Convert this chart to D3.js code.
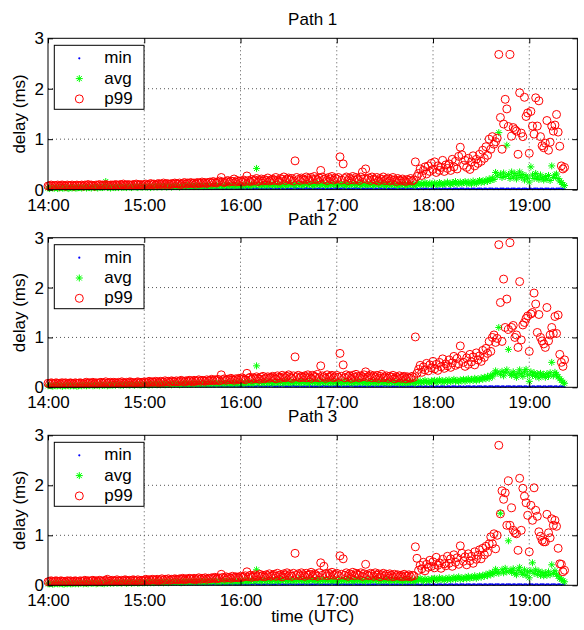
<!DOCTYPE html>
<html><head><meta charset="utf-8">
<script src="https://cdn.jsdelivr.net/npm/d3@7"></script>
<style>
body{margin:0;background:#fff}
svg{display:block}
text{font-family:"Liberation Sans",Arial,Helvetica,sans-serif;fill:#000}
</style>
</head><body>
<svg id="chart" width="584" height="630"></svg>
<script>
// sample times, minutes after 14:00 UTC (one sample per minute)
const minutes = [
0,1,2,3,4,5,6,7,8,9,10,11,12,13,14,15,16,17,18,19,
20,21,22,23,24,25,26,27,28,29,30,31,32,33,34,35,36,37,38,39,
40,41,42,43,44,45,46,47,48,49,50,51,52,53,54,55,56,57,58,59,
60,61,62,63,64,65,66,67,68,69,70,71,72,73,74,75,76,77,78,79,
80,81,82,83,84,85,86,87,88,89,90,91,92,93,94,95,96,97,98,99,
100,101,102,103,104,105,106,107,108,109,110,111,112,113,114,115,116,117,118,119,
120,121,122,123,124,125,126,127,128,129,130,131,132,133,134,135,136,137,138,139,
140,141,142,143,144,145,146,147,148,149,150,151,152,153,154,155,156,157,158,159,
160,161,162,163,164,165,166,167,168,169,170,171,172,173,174,175,176,177,178,179,
180,181,182,183,184,185,186,187,188,189,190,191,192,193,194,195,196,197,198,199,
200,201,202,203,204,205,206,207,208,209,210,211,212,213,214,215,216,217,218,219,
220,221,222,223,224,225,226,227,228,
229,230,231,232,233,234,235,236,237,238,239,
240,241,242,243,244,245,246,247,248,249,250,251,252,253,254,255,256,257,258,259,
260,261,262,263,264,265,266,267,268,269,270,271,272,273,274,275,276,277,278,279,
280,281,282,283,284,285,286,287,288,289,290,291,292,293,294,295,296,297,298,299,
300,301,302,303,304,305,306,307,308,309,310,311,312,313,314,315,316,317,318,319,
320,321,322];

const xTickValues = [0,60,120,180,240,300];
const xTickLabels = ["14:00","15:00","16:00","17:00","18:00","19:00"];
const yTickValues = [0,1,2,3];
const seriesNames = ["min","avg","p99"];
const panelTitles = ["Path 1","Path 2","Path 3"];

// ---------- Path 1 ----------
const minPath1 = [
0.01,0.02,0.01,0.01,0.02,0.01,0.02,0.01,0.01,0.02,0.01,0.02,0.02,0.01,0.02,0.01,0.02,0.02,0.01,0.02,
0.02,0.01,0.02,0.02,0.01,0.02,0.02,0.01,0.02,0.02,0.02,0.01,0.02,0.02,0.02,0.01,0.02,0.02,0.02,0.01,
0.02,0.02,0.02,0.02,0.01,0.02,0.02,0.02,0.02,0.02,0.02,0.02,0.01,0.02,0.02,0.02,0.02,0.02,0.02,0.02,
0.02,0.02,0.02,0.02,0.02,0.02,0.03,0.02,0.02,0.02,0.02,0.02,0.02,0.03,0.02,0.02,0.02,0.02,0.02,0.02,
0.02,0.02,0.03,0.02,0.02,0.02,0.02,0.02,0.02,0.02,0.02,0.02,0.02,0.02,0.02,0.03,0.02,0.02,0.02,0.02,
0.02,0.02,0.02,0.02,0.02,0.02,0.02,0.02,0.02,0.02,0.02,0.02,0.02,0.02,0.02,0.02,0.03,0.02,0.02,0.02,
0.02,0.02,0.02,0.03,0.02,0.02,0.02,0.02,0.02,0.02,0.03,0.02,0.02,0.02,0.02,0.02,0.02,0.02,0.03,0.02,
0.02,0.02,0.02,0.02,0.02,0.03,0.02,0.02,0.02,0.02,0.02,0.02,0.02,0.02,0.03,0.02,0.02,0.02,0.02,0.02,
0.02,0.03,0.02,0.02,0.02,0.02,0.02,0.02,0.02,0.03,0.02,0.02,0.02,0.02,0.02,0.02,0.02,0.02,0.02,0.03,
0.02,0.02,0.02,0.02,0.03,0.02,0.02,0.02,0.02,0.02,0.02,0.02,0.03,0.02,0.02,0.02,0.02,0.02,0.02,0.02,
0.02,0.02,0.02,0.02,0.02,0.02,0.02,0.03,0.02,0.02,0.02,0.02,0.02,0.02,0.02,0.02,0.02,0.02,0.02,0.02,
0.02,0.02,0.02,0.02,0.02,0.02,0.02,0.02,0.02,
0.02,0.02,0.01,0.02,0.02,0.01,0.02,0.02,0.02,0.01,0.02,
0.02,0.01,0.02,0.02,0.02,0.01,0.02,0.02,0.02,0.01,0.02,0.02,0.01,0.02,0.02,0.02,0.01,0.02,0.02,0.02,
0.01,0.02,0.02,0.01,0.02,0.02,0.02,0.01,0.02,0.02,0.02,0.01,0.02,0.02,0.01,0.02,0.02,0.02,0.01,0.02,
0.02,0.01,0.02,0.02,0.02,0.01,0.02,0.02,0.01,0.02,0.02,0.02,0.01,0.02,0.02,0.01,0.02,0.02,0.02,0.01,
0.02,0.02,0.01,0.02,0.02,0.02,0.01,0.02,0.02,0.01,0.02,0.02,0.02,0.01,0.02,0.02,0.01,0.02,0.02,0.02,
0.02,0.01,0.02];
const avgPath1 = [
0.03,0.02,0.04,0.03,0.03,0.04,0.02,0.03,0.04,0.03,0.03,0.04,0.03,0.02,0.04,0.03,0.04,0.03,0.03,0.04,
0.04,0.03,0.04,0.05,0.03,0.04,0.04,0.03,0.05,0.04,0.04,0.03,0.05,0.04,0.04,0.05,0.16,0.04,0.05,0.03,
0.05,0.04,0.04,0.05,0.04,0.06,0.04,0.05,0.05,0.04,0.06,0.05,0.04,0.05,0.06,0.05,0.04,0.06,0.05,0.05,
0.06,0.05,0.05,0.06,0.04,0.06,0.05,0.07,0.05,0.06,0.06,0.05,0.07,0.06,0.05,0.06,0.07,0.05,0.06,0.07,
0.06,0.07,0.05,0.07,0.06,0.07,0.06,0.08,0.06,0.07,0.07,0.06,0.08,0.07,0.06,0.07,0.08,0.06,0.07,0.08,
0.07,0.08,0.06,0.08,0.07,0.09,0.07,0.08,0.07,0.06,0.08,0.09,0.07,0.08,0.07,0.09,0.08,0.07,0.08,0.09,
0.08,0.07,0.09,0.08,0.10,0.07,0.09,0.08,0.10,0.08,0.42,0.09,0.08,0.10,0.07,0.09,0.10,0.08,0.09,0.11,
0.09,0.08,0.10,0.09,0.11,0.08,0.10,0.09,0.08,0.11,0.09,0.10,0.12,0.09,0.08,0.10,0.11,0.09,0.10,0.08,
0.10,0.12,0.09,0.10,0.11,0.08,0.10,0.09,0.12,0.10,0.09,0.11,0.10,0.08,0.11,0.09,0.10,0.12,0.09,0.10,
0.11,0.09,0.10,0.12,0.09,0.10,0.08,0.11,0.10,0.09,0.12,0.10,0.09,0.11,0.10,0.08,0.10,0.11,0.09,0.10,
0.09,0.11,0.10,0.08,0.10,0.12,0.09,0.10,0.11,0.09,0.10,0.08,0.11,0.10,0.09,0.11,0.10,0.09,0.08,0.10,
0.09,0.11,0.10,0.08,0.10,0.09,0.11,0.10,0.09,
0.08,0.11,0.13,0.09,0.12,0.10,0.14,0.11,0.09,0.13,0.11,
0.10,0.13,0.11,0.09,0.14,0.12,0.10,0.13,0.11,0.15,
0.12,0.10,0.14,0.12,0.16,0.11,0.13,0.15,0.12,0.14,
0.16,0.12,0.15,0.13,0.11,0.17,0.14,0.12,0.16,0.18,
0.14,0.17,0.15,0.19,0.16,0.21,0.18,0.23,0.20,0.34,
0.27,1.13,0.31,0.24,0.33,0.26,0.88,0.30,0.22,0.35,
0.25,0.32,0.21,0.28,0.35,0.24,0.30,0.19,0.27,0.23,
0.15,0.45,0.29,0.22,0.32,0.25,0.20,0.29,0.23,0.19,
0.26,0.21,0.28,0.18,0.47,0.24,0.29,0.31,0.22,0.17,
0.14,0.10,0.08];
const p99Path1 = [
0.07,0.08,0.09,0.07,0.08,0.08,0.09,0.07,0.08,0.09,0.08,0.07,0.09,0.08,0.08,0.09,0.07,0.08,0.09,0.08,
0.08,0.09,0.07,0.09,0.08,0.10,0.08,0.09,0.08,0.07,0.09,0.08,0.10,0.08,0.09,0.08,0.10,0.09,0.08,0.09,
0.09,0.08,0.10,0.09,0.08,0.10,0.09,0.11,0.08,0.09,0.10,0.09,0.08,0.10,0.09,0.11,0.10,0.09,0.10,0.08,
0.10,0.11,0.09,0.10,0.12,0.10,0.11,0.09,0.11,0.12,0.10,0.11,0.13,0.10,0.12,0.11,0.10,0.12,0.11,0.13,
0.12,0.11,0.13,0.10,0.12,0.14,0.11,0.13,0.12,0.14,0.12,0.13,0.11,0.14,0.13,0.12,0.15,0.13,0.14,0.12,
0.14,0.15,0.13,0.16,0.14,0.13,0.15,0.17,0.24,0.15,0.14,0.16,0.18,0.15,0.17,0.16,0.21,0.15,0.18,0.16,
0.17,0.15,0.19,0.16,0.27,0.18,0.16,0.20,0.17,0.19,0.22,0.16,0.18,0.21,0.17,0.20,0.18,0.23,0.17,0.19,
0.21,0.18,0.24,0.19,0.17,0.22,0.20,0.25,0.18,0.21,0.23,0.19,0.22,0.17,0.57,0.24,0.20,0.18,0.23,0.21,
0.19,0.25,0.22,0.18,0.24,0.20,0.26,0.21,0.19,0.23,0.38,0.25,0.20,0.22,0.18,0.24,0.21,0.26,0.19,0.23,
0.21,0.24,0.65,0.19,0.51,0.22,0.25,0.18,0.23,0.20,0.26,0.19,0.24,0.21,0.18,0.25,0.35,0.22,0.41,0.20,
0.23,0.18,0.25,0.21,0.19,0.24,0.17,0.22,0.20,0.25,0.18,0.21,0.23,0.17,0.20,0.24,0.19,0.16,0.22,0.19,
0.17,0.21,0.18,0.16,0.20,0.18,0.22,0.17,0.19,
0.55,0.26,0.32,0.41,0.28,0.38,0.45,0.31,0.47,0.36,0.52,
0.40,0.55,0.34,0.47,0.38,0.44,0.58,0.36,0.49,0.42,
0.51,0.38,0.60,0.45,0.56,0.41,0.66,0.84,0.69,0.48,
0.58,0.44,0.62,0.40,0.55,0.67,0.47,0.60,0.52,0.70,
0.56,0.78,0.62,0.85,0.68,1.00,0.80,1.05,0.90,0.95,
1.02,2.68,1.43,0.80,1.30,1.79,1.60,1.25,2.68,1.06,
1.23,1.19,1.16,0.70,1.92,1.12,1.05,1.83,1.45,1.52,
0.72,1.55,1.26,1.10,1.82,1.26,1.76,1.05,0.87,0.83,
0.92,1.37,0.78,0.94,1.26,1.16,1.28,1.49,1.14,0.86,
0.47,0.41,0.44];

// ---------- Path 2 ----------
const minPath2 = [
0.02,0.01,0.02,0.01,0.01,0.02,0.01,0.02,0.01,0.02,0.02,0.01,0.02,0.01,0.02,0.02,0.01,0.02,0.02,0.01,
0.02,0.02,0.01,0.02,0.02,0.01,0.02,0.02,0.02,0.01,0.02,0.02,0.01,0.02,0.02,0.02,0.02,0.01,0.02,0.02,
0.02,0.02,0.02,0.01,0.02,0.02,0.02,0.02,0.02,0.02,0.02,0.01,0.02,0.02,0.02,0.02,0.02,0.02,0.02,0.02,
0.02,0.02,0.02,0.02,0.03,0.02,0.02,0.02,0.02,0.02,0.02,0.02,0.03,0.02,0.02,0.02,0.02,0.02,0.02,0.02,
0.03,0.02,0.02,0.02,0.02,0.02,0.02,0.02,0.02,0.02,0.02,0.03,0.02,0.02,0.02,0.02,0.02,0.02,0.02,0.02,
0.02,0.02,0.02,0.02,0.02,0.03,0.02,0.02,0.02,0.02,0.02,0.02,0.02,0.02,0.02,0.02,0.02,0.03,0.02,0.02,
0.02,0.02,0.03,0.02,0.02,0.02,0.02,0.02,0.02,0.02,0.02,0.03,0.02,0.02,0.02,0.02,0.02,0.02,0.02,0.03,
0.02,0.02,0.02,0.02,0.02,0.02,0.03,0.02,0.02,0.02,0.02,0.02,0.02,0.03,0.02,0.02,0.02,0.02,0.02,0.02,
0.02,0.02,0.02,0.03,0.02,0.02,0.02,0.02,0.02,0.02,0.02,0.02,0.03,0.02,0.02,0.02,0.02,0.02,0.02,0.02,
0.03,0.02,0.02,0.02,0.02,0.02,0.02,0.02,0.02,0.03,0.02,0.02,0.02,0.02,0.02,0.02,0.02,0.02,0.02,0.02,
0.02,0.02,0.02,0.02,0.02,0.02,0.02,0.02,0.02,0.02,0.03,0.02,0.02,0.02,0.02,0.02,0.02,0.02,0.02,0.02,
0.02,0.02,0.02,0.02,0.02,0.02,0.02,0.02,0.02,
0.02,0.01,0.02,0.02,0.02,0.01,0.02,0.02,0.01,0.02,0.02,
0.02,0.01,0.02,0.02,0.01,0.02,0.02,0.02,0.01,0.02,0.02,0.01,0.02,0.02,0.02,0.01,0.02,0.02,0.01,0.02,
0.01,0.02,0.02,0.02,0.01,0.02,0.02,0.01,0.02,0.02,0.02,0.01,0.02,0.02,0.01,0.02,0.02,0.02,0.01,0.02,
0.02,0.02,0.01,0.02,0.02,0.01,0.02,0.02,0.02,0.01,0.02,0.02,0.01,0.02,0.02,0.02,0.01,0.02,0.02,0.01,
0.02,0.01,0.02,0.02,0.01,0.02,0.02,0.02,0.01,0.02,0.02,0.01,0.02,0.02,0.02,0.01,0.02,0.02,0.01,0.02,
0.02,0.02,0.01];
const avgPath2 = [
0.03,0.04,0.03,0.02,0.04,0.03,0.03,0.04,0.03,0.02,0.04,0.03,0.04,0.03,0.03,0.04,0.03,0.04,0.02,0.03,
0.04,0.03,0.05,0.04,0.03,0.04,0.04,0.05,0.03,0.04,0.05,0.04,0.03,0.05,0.04,0.04,0.05,0.03,0.04,0.05,
0.04,0.05,0.04,0.06,0.05,0.04,0.05,0.04,0.06,0.05,0.05,0.04,0.06,0.05,0.04,0.06,0.05,0.05,0.04,0.06,
0.05,0.06,0.05,0.04,0.06,0.05,0.07,0.06,0.05,0.06,0.05,0.07,0.06,0.05,0.07,0.06,0.06,0.05,0.07,0.06,
0.07,0.06,0.05,0.07,0.06,0.08,0.07,0.06,0.07,0.06,0.08,0.07,0.06,0.07,0.08,0.06,0.07,0.08,0.07,0.06,
0.08,0.07,0.07,0.09,0.06,0.08,0.07,0.08,0.09,0.07,0.08,0.07,0.09,0.08,0.07,0.08,0.09,0.07,0.08,0.08,
0.09,0.08,0.07,0.09,0.08,0.10,0.08,0.09,0.07,0.10,0.43,0.08,0.09,0.10,0.08,0.09,0.11,0.08,0.10,0.09,
0.08,0.10,0.09,0.11,0.08,0.10,0.09,0.08,0.11,0.10,0.09,0.10,0.08,0.12,0.09,0.10,0.11,0.08,0.10,0.09,
0.11,0.09,0.10,0.08,0.12,0.10,0.09,0.11,0.10,0.08,0.10,0.12,0.09,0.10,0.11,0.09,0.10,0.08,0.11,0.10,
0.09,0.11,0.10,0.08,0.12,0.09,0.10,0.11,0.09,0.10,0.08,0.11,0.10,0.09,0.12,0.10,0.09,0.11,0.10,0.08,
0.10,0.09,0.11,0.10,0.08,0.11,0.09,0.10,0.12,0.09,0.10,0.11,0.08,0.10,0.09,0.11,0.10,0.09,0.10,0.08,
0.10,0.09,0.11,0.08,0.10,0.09,0.10,0.11,0.09,
0.08,0.12,0.10,0.13,0.09,0.11,0.14,0.10,0.12,0.09,0.13,
0.11,0.14,0.10,0.12,0.15,0.11,0.13,0.10,0.14,0.12,
0.15,0.11,0.13,0.16,0.12,0.14,0.11,0.15,0.13,0.16,
0.12,0.15,0.17,0.13,0.16,0.14,0.18,0.13,0.17,0.15,
0.19,0.16,0.20,0.17,0.22,0.18,0.24,0.21,0.27,0.33,
0.29,1.20,0.26,0.32,0.23,0.30,0.35,0.76,0.27,0.24,
0.31,0.25,0.20,0.28,0.35,0.27,0.22,0.31,0.36,0.25,
0.12,0.31,0.24,0.29,0.22,0.27,0.19,0.28,0.23,0.26,
0.20,0.27,0.22,0.29,0.50,0.23,0.30,0.26,0.21,0.17,
0.14,0.10,0.08];
const p99Path2 = [
0.08,0.07,0.09,0.08,0.07,0.09,0.08,0.08,0.07,0.09,0.08,0.09,0.07,0.08,0.09,0.08,0.07,0.09,0.08,0.08,
0.09,0.08,0.07,0.09,0.10,0.08,0.09,0.08,0.10,0.07,0.09,0.08,0.09,0.10,0.08,0.09,0.11,0.08,0.09,0.10,
0.08,0.10,0.09,0.08,0.10,0.09,0.11,0.09,0.08,0.10,0.09,0.11,0.10,0.09,0.08,0.10,0.11,0.09,0.10,0.09,
0.11,0.10,0.09,0.12,0.10,0.11,0.10,0.12,0.11,0.09,0.12,0.11,0.10,0.13,0.11,0.12,0.10,0.13,0.12,0.11,
0.13,0.11,0.12,0.14,0.12,0.11,0.13,0.12,0.14,0.13,0.11,0.14,0.12,0.13,0.15,0.12,0.14,0.13,0.12,0.15,
0.13,0.14,0.16,0.13,0.15,0.14,0.16,0.13,0.25,0.15,0.17,0.14,0.16,0.15,0.18,0.16,0.14,0.17,0.15,0.18,
0.16,0.19,0.17,0.15,0.28,0.18,0.20,0.16,0.19,0.17,0.21,0.18,0.16,0.20,0.22,0.17,0.19,0.21,0.18,0.20,
0.22,0.19,0.17,0.23,0.20,0.18,0.24,0.21,0.19,0.22,0.25,0.20,0.18,0.23,0.61,0.21,0.24,0.19,0.22,0.20,
0.23,0.19,0.25,0.21,0.18,0.24,0.22,0.20,0.26,0.19,0.43,0.23,0.21,0.18,0.25,0.20,0.22,0.24,0.19,0.21,
0.24,0.20,0.68,0.22,0.45,0.19,0.25,0.21,0.23,0.18,0.24,0.20,0.26,0.22,0.19,0.23,0.21,0.25,0.31,0.20,
0.22,0.25,0.19,0.23,0.20,0.24,0.18,0.22,0.26,0.19,0.21,0.23,0.18,0.22,0.20,0.24,0.17,0.21,0.19,0.23,
0.18,0.20,0.22,0.17,0.21,0.19,0.18,0.22,0.20,
1.01,0.28,0.36,0.44,0.30,0.41,0.35,0.48,0.33,0.45,0.39,
0.52,0.37,0.46,0.34,0.50,0.41,0.57,0.38,0.47,0.43,
0.55,0.40,0.49,0.62,0.44,0.58,0.47,0.83,0.64,0.50,
0.42,0.59,0.46,0.66,0.51,0.61,0.45,0.69,0.55,0.63,
0.52,0.74,0.60,0.78,0.68,0.92,0.72,1.00,1.05,0.90,
0.98,2.86,1.70,0.92,2.17,1.20,1.77,1.16,2.90,1.20,
1.24,1.00,1.05,0.80,2.12,0.95,1.25,1.30,1.38,1.43,
0.72,1.47,1.50,1.89,1.67,1.10,1.46,1.00,0.93,0.87,
0.80,1.60,0.93,1.05,1.20,1.08,1.42,1.08,1.45,0.66,
0.50,0.42,0.55];

// ---------- Path 3 ----------
const minPath3 = [
0.01,0.02,0.01,0.02,0.01,0.01,0.02,0.01,0.02,0.01,0.02,0.01,0.02,0.02,0.01,0.02,0.01,0.02,0.02,0.01,
0.02,0.02,0.01,0.02,0.02,0.02,0.01,0.02,0.02,0.01,0.02,0.02,0.02,0.01,0.02,0.02,0.02,0.02,0.01,0.02,
0.02,0.02,0.02,0.02,0.02,0.01,0.02,0.02,0.02,0.02,0.02,0.02,0.02,0.01,0.02,0.02,0.02,0.02,0.02,0.02,
0.02,0.02,0.02,0.02,0.02,0.03,0.02,0.02,0.02,0.02,0.02,0.02,0.02,0.02,0.03,0.02,0.02,0.02,0.02,0.02,
0.02,0.03,0.02,0.02,0.02,0.02,0.02,0.02,0.02,0.02,0.03,0.02,0.02,0.02,0.02,0.02,0.02,0.02,0.02,0.02,
0.02,0.02,0.02,0.02,0.03,0.02,0.02,0.02,0.02,0.02,0.02,0.02,0.02,0.02,0.02,0.03,0.02,0.02,0.02,0.02,
0.02,0.03,0.02,0.02,0.02,0.02,0.02,0.02,0.02,0.03,0.02,0.02,0.02,0.02,0.02,0.02,0.02,0.03,0.02,0.02,
0.02,0.02,0.02,0.02,0.03,0.02,0.02,0.02,0.02,0.02,0.02,0.03,0.02,0.02,0.02,0.02,0.02,0.02,0.02,0.02,
0.03,0.02,0.02,0.02,0.02,0.02,0.02,0.02,0.03,0.02,0.02,0.02,0.02,0.02,0.02,0.02,0.02,0.03,0.02,0.02,
0.02,0.02,0.02,0.03,0.02,0.02,0.02,0.02,0.02,0.02,0.02,0.03,0.02,0.02,0.02,0.02,0.02,0.02,0.02,0.02,
0.02,0.02,0.02,0.02,0.02,0.02,0.03,0.02,0.02,0.02,0.02,0.02,0.02,0.02,0.02,0.02,0.02,0.02,0.02,0.02,
0.02,0.02,0.02,0.02,0.02,0.02,0.02,0.02,0.02,
0.02,0.02,0.02,0.01,0.02,0.02,0.01,0.02,0.02,0.02,0.01,
0.02,0.02,0.01,0.02,0.02,0.02,0.01,0.02,0.02,0.01,0.02,0.02,0.02,0.01,0.02,0.02,0.01,0.02,0.02,0.02,
0.01,0.02,0.02,0.02,0.01,0.02,0.02,0.01,0.02,0.02,0.02,0.01,0.02,0.02,0.01,0.02,0.02,0.02,0.01,0.02,
0.02,0.02,0.01,0.02,0.02,0.01,0.02,0.02,0.02,0.01,0.02,0.02,0.01,0.02,0.02,0.02,0.01,0.02,0.02,0.01,
0.02,0.02,0.02,0.01,0.02,0.02,0.01,0.02,0.02,0.02,0.01,0.02,0.02,0.01,0.02,0.02,0.02,0.01,0.02,0.02,
0.01,0.02,0.02];
const avgPath3 = [
0.03,0.03,0.04,0.02,0.03,0.04,0.03,0.03,0.04,0.03,0.02,0.04,0.03,0.04,0.03,0.03,0.04,0.03,0.04,0.03,
0.04,0.05,0.03,0.04,0.04,0.03,0.05,0.04,0.04,0.05,0.03,0.04,0.05,0.04,0.04,0.03,0.05,0.04,0.05,0.04,
0.05,0.04,0.06,0.04,0.05,0.05,0.04,0.06,0.05,0.04,0.05,0.06,0.04,0.05,0.05,0.06,0.04,0.05,0.06,0.05,
0.05,0.06,0.05,0.07,0.05,0.06,0.05,0.06,0.07,0.05,0.06,0.06,0.05,0.07,0.06,0.05,0.07,0.06,0.06,0.07,
0.06,0.07,0.06,0.05,0.07,0.06,0.08,0.06,0.07,0.07,0.06,0.08,0.07,0.06,0.07,0.08,0.07,0.06,0.08,0.07,
0.07,0.08,0.07,0.09,0.07,0.08,0.06,0.08,0.07,0.09,0.08,0.07,0.08,0.09,0.07,0.08,0.08,0.09,0.07,0.08,
0.08,0.09,0.08,0.10,0.07,0.09,0.08,0.10,0.09,0.08,0.31,0.09,0.10,0.08,0.09,0.11,0.08,0.10,0.09,0.08,
0.10,0.09,0.11,0.08,0.10,0.09,0.12,0.09,0.10,0.08,0.11,0.10,0.09,0.11,0.08,0.10,0.12,0.09,0.10,0.11,
0.09,0.10,0.08,0.11,0.10,0.12,0.09,0.10,0.11,0.08,0.10,0.09,0.12,0.10,0.09,0.11,0.10,0.08,0.10,0.11,
0.10,0.08,0.11,0.10,0.09,0.12,0.10,0.09,0.11,0.10,0.08,0.10,0.12,0.09,0.10,0.11,0.09,0.10,0.08,0.11,
0.10,0.09,0.11,0.10,0.12,0.09,0.10,0.08,0.11,0.10,0.09,0.11,0.10,0.08,0.10,0.12,0.09,0.10,0.11,0.09,
0.10,0.08,0.11,0.09,0.10,0.11,0.09,0.10,0.08,
0.09,0.12,0.10,0.14,0.11,0.08,0.13,0.10,0.12,0.09,0.13,
0.11,0.14,0.12,0.10,0.15,0.12,0.13,0.10,0.14,0.12,
0.15,0.11,0.13,0.16,0.12,0.14,0.17,0.12,0.15,0.13,
0.16,0.13,0.18,0.14,0.16,0.15,0.19,0.14,0.17,0.19,
0.16,0.20,0.18,0.22,0.19,0.24,0.21,0.26,0.23,0.32,
0.27,0.24,1.44,0.31,0.25,0.34,0.27,0.89,0.30,0.26,
0.33,0.24,0.21,0.30,0.36,0.26,0.22,0.31,0.20,0.27,
0.15,0.29,0.45,0.24,0.31,0.22,0.28,0.20,0.26,0.19,
0.25,0.20,0.27,0.21,0.41,0.24,0.29,0.22,0.18,0.14,
0.12,0.09,0.07];
const p99Path3 = [
0.07,0.08,0.09,0.07,0.08,0.09,0.08,0.07,0.09,0.08,0.08,0.07,0.09,0.08,0.09,0.07,0.08,0.09,0.08,0.07,
0.09,0.08,0.08,0.10,0.07,0.09,0.08,0.09,0.10,0.08,0.09,0.07,0.10,0.09,0.08,0.09,0.10,0.12,0.08,0.09,
0.10,0.08,0.09,0.11,0.09,0.08,0.10,0.09,0.11,0.10,0.08,0.10,0.09,0.11,0.10,0.09,0.11,0.08,0.10,0.09,
0.10,0.12,0.09,0.11,0.10,0.12,0.11,0.10,0.12,0.09,0.11,0.13,0.10,0.12,0.11,0.13,0.10,0.12,0.11,0.13,
0.12,0.11,0.13,0.12,0.14,0.11,0.13,0.12,0.14,0.13,0.12,0.14,0.11,0.13,0.15,0.12,0.14,0.13,0.15,0.12,
0.14,0.13,0.15,0.14,0.16,0.13,0.15,0.14,0.22,0.16,0.14,0.17,0.15,0.16,0.14,0.18,0.15,0.17,0.16,0.15,
0.18,0.16,0.17,0.19,0.27,0.17,0.20,0.16,0.18,0.21,0.17,0.19,0.22,0.18,0.20,0.17,0.21,0.19,0.23,0.18,
0.20,0.22,0.18,0.24,0.19,0.21,0.17,0.23,0.20,0.25,0.19,0.22,0.18,0.24,0.64,0.20,0.23,0.19,0.25,0.21,
0.18,0.24,0.20,0.22,0.26,0.19,0.23,0.21,0.18,0.25,0.45,0.20,0.38,0.23,0.19,0.24,0.21,0.26,0.20,0.22,
0.24,0.19,0.59,0.22,0.53,0.20,0.25,0.18,0.23,0.21,0.26,0.19,0.24,0.22,0.20,0.25,0.18,0.23,0.42,0.21,
0.19,0.24,0.22,0.18,0.25,0.20,0.23,0.17,0.21,0.24,0.19,0.22,0.18,0.23,0.20,0.17,0.22,0.19,0.21,0.18,
0.20,0.17,0.22,0.19,0.18,0.21,0.17,0.20,0.19,
0.77,0.54,0.30,0.40,0.33,0.46,0.29,0.42,0.36,0.50,0.38,
0.47,0.35,0.56,0.40,0.45,0.34,0.52,0.43,0.39,0.58,
0.44,0.53,0.38,0.61,0.46,0.55,0.42,0.79,0.64,0.48,
0.57,0.41,0.63,0.49,0.58,0.44,0.67,0.52,0.60,0.71,
0.53,0.74,0.61,0.78,0.66,0.83,0.97,0.83,1.03,0.73,
1.00,2.80,1.43,1.89,1.72,1.85,1.20,2.09,1.20,1.55,
1.10,1.05,1.03,0.70,2.14,1.10,1.94,1.78,1.65,1.40,
0.67,1.60,1.30,1.95,1.50,1.38,1.07,0.98,0.90,0.87,
0.87,1.42,1.05,0.95,1.33,1.20,1.30,1.18,0.74,0.43,
0.42,0.27,0.30];

const panels = [
  {title: panelTitles[0], min: minPath1, avg: avgPath1, p99: p99Path1},
  {title: panelTitles[1], min: minPath2, avg: avgPath2, p99: p99Path2},
  {title: panelTitles[2], min: minPath3, avg: avgPath3, p99: p99Path3}
];

// ---------- layout ----------
const svg = d3.select("#chart");
const plotLeft = 48, plotRight = 577.4;
const tops = [38.3, 237.7, 435.3];
const bottoms = [189.6, 387.3, 585.3];
const FS = 17;
const x = d3.scaleLinear().domain([0, 330]).range([plotLeft, plotRight]);
const starPath = "M-3.5,0L3.5,0M0,-3.5L0,3.5M-2.5,-2.5L2.5,2.5M-2.5,2.5L2.5,-2.5";

function pts(arr){
  const out = [];
  for (let i = 0; i < minutes.length && i < arr.length; i++) out.push([minutes[i], arr[i]]);
  return out;
}

panels.forEach((p, i) => {
  const top = tops[i], bottom = bottoms[i];
  const y = d3.scaleLinear().domain([0, 3]).range([bottom, top]);
  const g = svg.append("g");

  // grid
  g.append("g").selectAll("line").data(xTickValues.filter(v => v > 0)).join("line")
    .attr("x1", d => x(d)).attr("x2", d => x(d)).attr("y1", top).attr("y2", bottom)
    .attr("stroke", "#555").attr("stroke-width", 1).attr("stroke-dasharray", "1,3");
  g.append("g").selectAll("line").data(yTickValues.filter(v => v > 0 && v < 3)).join("line")
    .attr("x1", plotLeft).attr("x2", plotRight).attr("y1", d => y(d)).attr("y2", d => y(d))
    .attr("stroke", "#555").attr("stroke-width", 1).attr("stroke-dasharray", "1,3");

  // min
  g.append("g").selectAll("circle").data(pts(p.min)).join("circle")
    .attr("cx", d => x(d[0])).attr("cy", d => y(d[1])).attr("r", 1.1).attr("fill", "#0000ff");
  // avg
  g.append("g").selectAll("path").data(pts(p.avg)).join("path")
    .attr("d", starPath).attr("transform", d => `translate(${x(d[0])},${y(d[1])})`)
    .attr("stroke", "#00ff00").attr("stroke-width", 1).attr("fill", "none");
  // p99
  g.append("g").selectAll("circle").data(pts(p.p99)).join("circle")
    .attr("cx", d => x(d[0])).attr("cy", d => y(d[1])).attr("r", 4)
    .attr("stroke", "#ff0000").attr("stroke-width", 1).attr("fill", "none");

  // axes
  const xAxis = d3.axisBottom(x).tickValues(xTickValues).tickFormat((d, k) => xTickLabels[k])
    .tickSizeInner(-5).tickSizeOuter(0).tickPadding(9);
  const gx = g.append("g").attr("transform", `translate(0,${bottom})`).call(xAxis);
  gx.select(".domain").remove();
  gx.selectAll("text").attr("font-size", FS).attr("fill", "#000")
    .style("font-family", '"Liberation Sans",Arial,sans-serif');
  gx.selectAll("line").attr("stroke", "#000");

  const xTop = d3.axisTop(x).tickValues(xTickValues).tickFormat("").tickSizeInner(-5).tickSizeOuter(0);
  const gxt = g.append("g").attr("transform", `translate(0,${top})`).call(xTop);
  gxt.select(".domain").remove();
  gxt.selectAll("line").attr("stroke", "#000");

  const yAxis = d3.axisLeft(y).tickValues(yTickValues).tickFormat(d3.format("d"))
    .tickSizeInner(-5).tickSizeOuter(0).tickPadding(4);
  const gy = g.append("g").attr("transform", `translate(${plotLeft},0)`).call(yAxis);
  gy.select(".domain").remove();
  gy.selectAll("text").attr("font-size", FS).attr("fill", "#000")
    .style("font-family", '"Liberation Sans",Arial,sans-serif');
  gy.selectAll("line").attr("stroke", "#000");

  const yRight = d3.axisRight(y).tickValues(yTickValues).tickFormat("").tickSizeInner(-5).tickSizeOuter(0);
  const gyr = g.append("g").attr("transform", `translate(${plotRight},0)`).call(yRight);
  gyr.select(".domain").remove();
  gyr.selectAll("line").attr("stroke", "#000");

  // frame
  g.append("rect").attr("x", plotLeft).attr("y", top)
    .attr("width", plotRight - plotLeft).attr("height", bottom - top)
    .attr("fill", "none").attr("stroke", "#000").attr("stroke-width", 1);

  // title
  g.append("text").attr("x", (plotLeft + plotRight) / 2).attr("y", top - 13)
    .attr("text-anchor", "middle").attr("font-size", FS).text(p.title);

  // y label
  g.append("text").attr("transform", `translate(25,${(top + bottom) / 2}) rotate(-90)`)
    .attr("text-anchor", "middle").attr("font-size", FS).text("delay (ms)");

  // legend
  const lg = g.append("g").attr("transform", `translate(54.3,${top + 7})`);
  lg.append("rect").attr("width", 89.7).attr("height", 64)
    .attr("fill", "#fff").attr("stroke", "#000").attr("stroke-width", 1);
  seriesNames.forEach((name, k) => {
    const cy = 13 + k * 20.3;
    if (name === "min") {
      lg.append("circle").attr("cx", 25).attr("cy", cy).attr("r", 1.1).attr("fill", "#0000ff");
    } else if (name === "avg") {
      lg.append("path").attr("d", starPath).attr("transform", `translate(25,${cy})`)
        .attr("stroke", "#00ff00").attr("fill", "none");
    } else {
      lg.append("circle").attr("cx", 25).attr("cy", cy).attr("r", 4)
        .attr("stroke", "#ff0000").attr("fill", "none");
    }
    lg.append("text").attr("x", 50).attr("y", cy + 5).attr("font-size", FS).text(name);
  });
});

svg.append("text").attr("x", (plotLeft + plotRight) / 2).attr("y", 622)
  .attr("text-anchor", "middle").attr("font-size", FS).text("time (UTC)");
</script>
</body></html>
